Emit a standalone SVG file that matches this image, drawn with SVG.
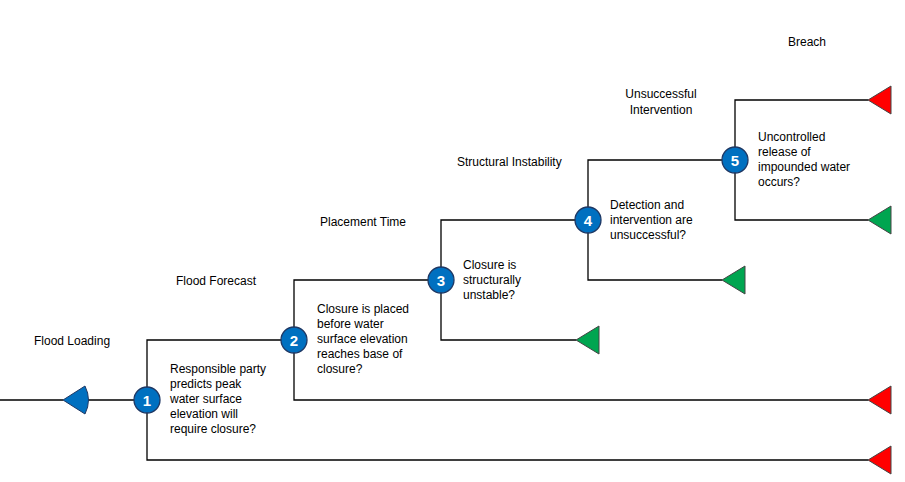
<svg xmlns="http://www.w3.org/2000/svg" width="905" height="482" viewBox="0 0 905 482">
<style>
.l{stroke:#000;stroke-width:1.3;fill:none}
.n{fill:#0070C0;stroke:#1f3864;stroke-width:1.3}
.nt{font-family:"Liberation Sans",Arial,sans-serif;font-size:15px;font-weight:bold;fill:#fff;text-anchor:middle}
.t{font-family:"Liberation Sans",Arial,sans-serif;font-size:12px;fill:#000}
.r{fill:#FF0000;stroke:#444;stroke-width:1}
.g{fill:#00A550;stroke:#444;stroke-width:1}
</style>
<rect width="905" height="482" fill="#fff"/>
<g id="connectors">
<path class="l" d="M0 400H63M87 400H134"/>
<path class="l" d="M294 340H147V460H868"/>
<path class="l" d="M441 280H294V400H868"/>
<path class="l" d="M588 220H441V340H576"/>
<path class="l" d="M735 160H588V280H722"/>
<path class="l" d="M868 100H735V220H868"/>
</g>
<g id="start"><path d="M63 400L85 386Q92 400 85 414Z" fill="#0070C0" stroke="#1f3864" stroke-width="1"/></g>
<g id="end1"><path class="r" d="M868 100L891 86V114Z"/></g>
<g id="end2"><path class="g" d="M868 220L891 206V234Z"/></g>
<g id="end3"><path class="g" d="M722 280L745 266V294Z"/></g>
<g id="end4"><path class="g" d="M576 340L599 326V354Z"/></g>
<g id="end5"><path class="r" d="M868 400L891 386V414Z"/></g>
<g id="end6"><path class="r" d="M868 460L891 446V474Z"/></g>
<g id="node1"><circle class="n" cx="147" cy="400" r="13"/><text class="nt" x="147" y="406">1</text>
<text class="t" x="170" y="373">Responsible party</text><text class="t" x="170" y="388">predicts peak</text><text class="t" x="170" y="403">water surface</text><text class="t" x="170" y="418">elevation  will</text><text class="t" x="170" y="433">require  closure?</text></g>
<g id="node2"><circle class="n" cx="294" cy="340" r="13"/><text class="nt" x="294" y="346">2</text>
<text class="t" x="317" y="313">Closure is placed</text><text class="t" x="317" y="328">before water</text><text class="t" x="317" y="343">surface elevation</text><text class="t" x="317" y="358">reaches base of</text><text class="t" x="317" y="373">closure?</text></g>
<g id="node3"><circle class="n" cx="441" cy="280" r="13"/><text class="nt" x="441" y="286">3</text>
<text class="t" x="463" y="269">Closure is</text><text class="t" x="463" y="284">structurally</text><text class="t" x="463" y="299">unstable?</text></g>
<g id="node4"><circle class="n" cx="588" cy="220" r="13"/><text class="nt" x="588" y="226">4</text>
<text class="t" x="610" y="209">Detection and</text><text class="t" x="610" y="224">intervention  are</text><text class="t" x="610" y="239">unsuccessful?</text></g>
<g id="node5"><circle class="n" cx="735" cy="160" r="13"/><text class="nt" x="735" y="166">5</text>
<text class="t" x="758" y="141">Uncontrolled</text><text class="t" x="758" y="156">release  of</text><text class="t" x="758" y="171">impounded  water</text><text class="t" x="758" y="186">occurs?</text></g>
<g id="headers">
<text class="t" x="34" y="345">Flood Loading</text>
<text class="t" x="176" y="285">Flood Forecast</text>
<text class="t" x="320" y="226">Placement Time</text>
<text class="t" x="457" y="166">Structural Instability</text>
<text class="t" x="661" y="98" text-anchor="middle">Unsuccessful</text><text class="t" x="661" y="114" text-anchor="middle">Intervention</text>
<text class="t" x="788" y="46">Breach</text>
</g>
</svg>
